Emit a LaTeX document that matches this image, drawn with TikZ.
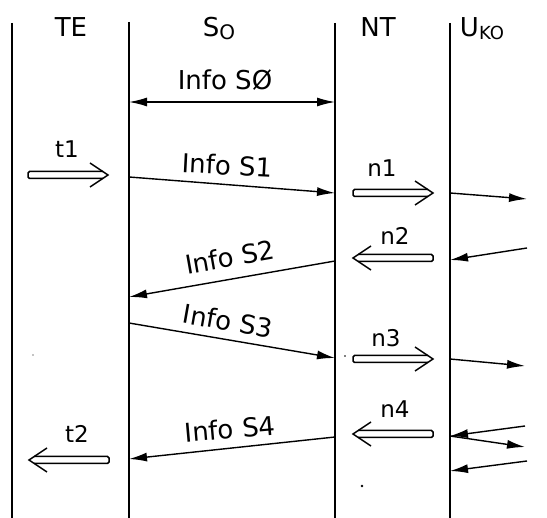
\documentclass[tikz,border=0pt]{standalone}
\usepackage{fontspec}
\setmainfont{DejaVu Sans}
\usetikzlibrary{arrows.meta}
\begin{document}
\begin{tikzpicture}[x=1pt,y=-1pt,
  lifeline/.style={line width=1.2pt},
  msg/.style={line width=1.4pt,-{Latex[length=18pt,width=9pt]}},
  msgboth/.style={line width=1.4pt,{Latex[length=18pt,width=9pt]}-{Latex[length=18pt,width=9pt]}},
  lbl/.style={font=\fontsize{26}{26}\selectfont, inner sep=0pt},
  sml/.style={font=\fontsize{23}{23}\selectfont, inner sep=0pt},
  harrow/.style={line width=1.5pt},
  hollow/.pic={
    \draw[harrow,rounded corners=1.5pt] (75,-3.5) -- (0,-3.5) -- (0,3.5) -- (75,3.5);
    \draw[harrow,line join=miter] (62,-12) -- (80,0) -- (62,12);}
]
\useasboundingbox (0,0) rectangle (547,518);

% lifelines
\coordinate (teT) at (12,23);  \coordinate (teB) at (12,518);
\coordinate (soT) at (129,22); \coordinate (soB) at (129,518);
\coordinate (ntT) at (335,23); \coordinate (ntB) at (335,518);
\coordinate (ukT) at (450,23); \coordinate (ukB) at (450,518);
\draw[lifeline] (teT) -- (teB);
\draw[lifeline] (soT) -- (soB);
\draw[lifeline] (ntT) -- (ntB);
\draw[lifeline] (ukT) -- (ukB);

% headings
\node[lbl,anchor=base] (hte) at (71,37) {TE};
\node[lbl,anchor=base] (hso) at (219,37) {S\raisebox{-3pt}{\fontsize{20}{20}\selectfont O}};
\node[lbl,anchor=base] (hnt) at (378,37) {NT};
\node[lbl,anchor=base] (huk) at (482,37) {U\raisebox{-3pt}{\fontsize{18}{18}\selectfont KO}};

% Info S0
\coordinate (i0a) at (129,102); \coordinate (i0b) at (335,102);
\draw[msgboth] (i0a) -- (i0b);
\node[lbl,anchor=base] (l0) at (225,90) {Info SØ};

% Info S1
\coordinate (i1a) at (129,177); \coordinate (i1b) at (335,193);
\draw[msg] (i1a) -- (i1b);
\node[lbl,rotate=-3] (l1) at (227,165) {Info S1};

% Info S2
\coordinate (i2a) at (335,261); \coordinate (i2b) at (129,297);
\draw[msg] (i2a) -- (i2b);
\node[lbl,rotate=10] (l2) at (230,257) {Info S2};

% Info S3
\coordinate (i3a) at (129,323); \coordinate (i3b) at (335,358);
\draw[msg] (i3a) -- (i3b);
\node[lbl,rotate=-10] (l3) at (228,321) {Info S3};

% Info S4
\coordinate (i4a) at (335,437); \coordinate (i4b) at (129,459);
\draw[msg] (i4a) -- (i4b);
\node[lbl,rotate=5] (l4) at (230,429) {Info S4};

% hollow arrows TE
\pic at (28,175) {hollow};
\node[sml,anchor=base] (lt1) at (67,158) {t1};
\pic[rotate=180] at (109,460) {hollow};
\node[sml,anchor=base] (lt2) at (77,443) {t2};

% hollow arrows NT
\pic at (353,193) {hollow};
\node[sml,anchor=base] (ln1) at (382,177) {n1};
\pic[rotate=180] at (433,258) {hollow};
\node[sml,anchor=base] (ln2) at (395,245) {n2};
\pic at (353,359) {hollow};
\node[sml,anchor=base] (ln3) at (386,347) {n3};
\pic[rotate=180] at (433,434) {hollow};
\node[sml,anchor=base] (ln4) at (395,418) {n4};

% U_KO side arrows
\coordinate (u1a) at (450,193); \coordinate (u1b) at (527,199);
\draw[msg] (u1a) -- (u1b);
\coordinate (u2a) at (527,248); \coordinate (u2b) at (450,260);
\draw[msg] (u2a) -- (u2b);
\coordinate (u3a) at (450,359); \coordinate (u3b) at (525,366);
\draw[msg] (u3a) -- (u3b);
\coordinate (u4a) at (525,426); \coordinate (u4b) at (450,436);
\draw[msg] (u4a) -- (u4b);
\coordinate (u5a) at (450,436); \coordinate (u5b) at (525,447);
\draw[msg] (u5a) -- (u5b);
\coordinate (u6a) at (527,461); \coordinate (u6b) at (450,471);
\draw[msg] (u6a) -- (u6b);

% specks
\fill (345,356) circle (0.9pt);
\fill (362,486) circle (1.3pt);
\fill (33,355) circle (0.6pt);
\end{tikzpicture}
\end{document}
